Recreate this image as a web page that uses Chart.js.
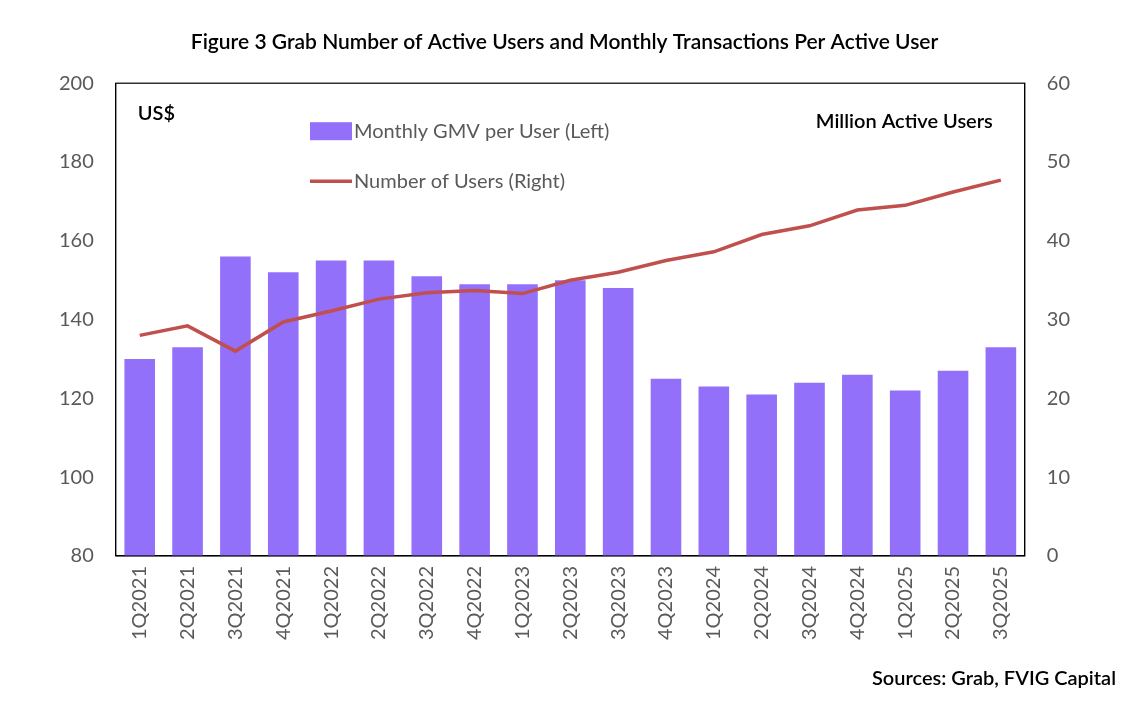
<!DOCTYPE html>
<html>
<head>
<meta charset="utf-8">
<script src="https://cdn.jsdelivr.net/npm/chart.js@4"></script>
<style>
  html, body { margin: 0; padding: 0; background: #fff; }
  #wrap { width: 1134px; height: 708px; position: relative; }
</style>
</head>
<body>
<div id="wrap"><canvas id="chart"></canvas></div>
<script>
const quarters = ["1Q2021","2Q2021","3Q2021","4Q2021","1Q2022","2Q2022","3Q2022","4Q2022",
  "1Q2023","2Q2023","3Q2023","4Q2023","1Q2024","2Q2024","3Q2024","4Q2024","1Q2025","2Q2025","3Q2025"];
const gmvPerUser = [130,133,156,152,155,155,151,149,149,150,148,125,123,121,124,126,122,127,133];
const activeUsers = [28.0,29.2,26.0,29.7,31.1,32.6,33.4,33.7,33.3,35.0,36.0,37.5,38.6,40.8,41.9,43.9,44.5,46.2,47.7];

const FONT = "Lato, 'Open Sans', sans-serif";
const barColor = "#9370fa";
const lineColor = "#c0504d";

// frame, in-plot legend and notes
const overlay = {
  id: "overlay",
  afterDraw(chart) {
    const ctx = chart.ctx, a = chart.chartArea;
    ctx.save();
    ctx.strokeStyle = "#000";
    ctx.lineWidth = 1.2;
    ctx.strokeRect(a.left, a.top, a.right - a.left, a.bottom - a.top);

    ctx.fillStyle = "#000";
    ctx.font = "600 20px " + FONT;
    ctx.textBaseline = "middle";
    ctx.textAlign = "left";
    ctx.fillText("US$", a.left + 22, a.top + 30);
    ctx.textAlign = "right";
    ctx.fillText("Million Active Users", a.right - 32, a.top + 38);
    ctx.fillText("Sources: Grab, FVIG Capital", 1116, 679);

    ctx.textAlign = "left";
    ctx.font = "20px " + FONT;
    ctx.fillStyle = barColor;
    ctx.fillRect(310, a.top + 39, 42, 18);
    ctx.fillStyle = "#595959";
    ctx.fillText("Monthly GMV per User (Left)", 354, a.top + 48);
    ctx.strokeStyle = lineColor;
    ctx.lineWidth = 3.5;
    ctx.beginPath();
    ctx.moveTo(310, a.top + 98);
    ctx.lineTo(352, a.top + 98);
    ctx.stroke();
    ctx.fillText("Number of Users (Right)", 354, a.top + 98);
    ctx.restore();
  }
};

new Chart(document.getElementById("chart"), {
  data: {
    labels: quarters,
    datasets: [
      { type: "line", label: "Number of Users (Right)", data: activeUsers, yAxisID: "yR",
        borderColor: lineColor, borderWidth: 3.5, pointRadius: 0, tension: 0, order: 0 },
      { type: "bar", label: "Monthly GMV per User (Left)", data: gmvPerUser, yAxisID: "yL",
        backgroundColor: barColor, barPercentage: 0.64, categoryPercentage: 1, order: 1 }
    ]
  },
  options: {
    responsive: true,
    maintainAspectRatio: false,
    animation: false,
    layout: { padding: { left: 45, right: 50, top: 10, bottom: 58 } },
    plugins: {
      legend: { display: false },
      tooltip: { enabled: false },
      title: {
        display: true,
        text: "Figure 3 Grab Number of Active Users and Monthly Transactions Per Active User",
        color: "#000",
        font: { family: FONT, size: 21, weight: "600" },
        padding: { top: 20, bottom: 28 }
      }
    },
    scales: {
      x: {
        grid: { display: false, drawTicks: false },
        border: { color: "#000" },
        ticks: { color: "#595959", font: { family: FONT, size: 20 }, minRotation: 90, maxRotation: 90, padding: 10 }
      },
      yL: {
        position: "left", min: 80, max: 200,
        grid: { display: false },
        border: { color: "#000" },
        ticks: { stepSize: 20, color: "#595959", font: { family: FONT, size: 20 }, padding: 14 }
      },
      yR: {
        position: "right", min: 0, max: 60,
        grid: { display: false },
        border: { color: "#000" },
        ticks: { stepSize: 10, color: "#595959", font: { family: FONT, size: 20 }, padding: 14 }
      }
    }
  },
  plugins: [overlay]
});
</script>
</body>
</html>
